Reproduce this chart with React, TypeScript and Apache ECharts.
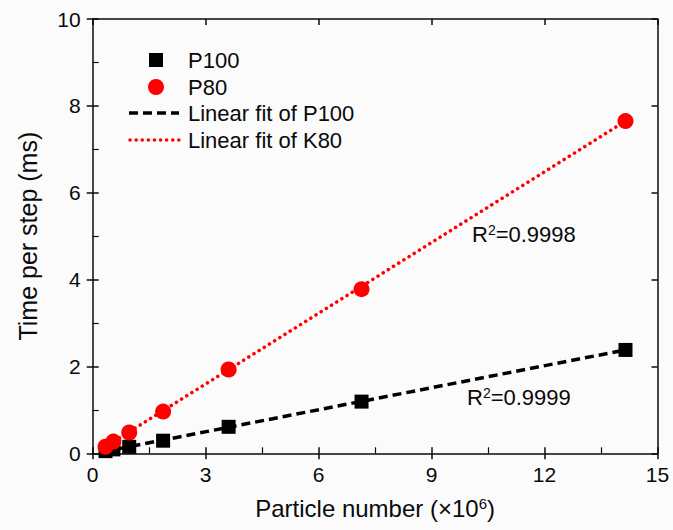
import React, { useEffect, useRef } from "react";
import * as echarts from "echarts";

const p100X = [0.34, 0.55, 0.97, 1.87, 3.61, 7.14, 14.15];
const p100Y = [0.05, 0.09, 0.15, 0.29, 0.61, 1.19, 2.38];
const p80X = [0.34, 0.55, 0.97, 1.87, 3.61, 7.14, 14.15];
const p80Y = [0.15, 0.27, 0.48, 0.96, 1.93, 3.78, 7.65];
const fitP100X = [0.3, 14.15];
const fitP100Y = [0.04, 2.38];
const fitK80X = [0.3, 14.15];
const fitK80Y = [0.13, 7.65];
const xTicks = { min: 0, max: 15, interval: 3 };
const yTicks = { min: 0, max: 10, interval: 2 };
const legendNames = ["P100", "P80", "Linear fit of P100", "Linear fit of K80"];
const r2Labels = ["0.9998", "0.9999"];

const FONT = "Liberation Sans, Arial, sans-serif";
const AXC = "#0a0a0a";

const zip = (xs: number[], ys: number[]) => xs.map((x, i) => [x, ys[i]]);

export default function App() {
  const ref = useRef<HTMLDivElement>(null);
  useEffect(() => {
    if (!ref.current) return;
    const chart = echarts.init(ref.current, null, { renderer: "svg" });
    const baseX = { type: "value", min: xTicks.min, max: xTicks.max, interval: xTicks.interval, splitLine: { show: false } };
    const baseY = { type: "value", min: yTicks.min, max: yTicks.max, interval: yTicks.interval, splitLine: { show: false } };
    const line = { show: true, onZero: false, lineStyle: { color: AXC, width: 1.5 } };
    const option: any = {
      animation: false,
      backgroundColor: "#fbfbfb",
      textStyle: { fontFamily: FONT },
      grid: { left: 92.7, right: 15.5, top: 19, bottom: 76.7, containLabel: false },
      xAxis: [
        {
          ...baseX,
          position: "bottom",
          axisLine: line,
          axisTick: { show: true, inside: false, length: 6, lineStyle: { color: AXC, width: 1.5 } },
          axisLabel: { show: true, fontSize: 21, margin: 11, color: AXC, fontFamily: FONT },
          name: "Particle number (\u00d710{s|6})",
          nameLocation: "middle",
          nameGap: 43,
          nameTextStyle: {
            fontSize: 24, color: AXC, fontFamily: FONT,
            rich: { s: { fontSize: 15, verticalAlign: "top", color: AXC, fontFamily: FONT, padding: [0, 0, 8, 0] } },
          },
        },
        {
          ...baseX,
          position: "bottom",
          axisLine: { show: false, onZero: false },
          axisTick: { show: true, inside: true, length: 6, lineStyle: { color: AXC, width: 1.5 } },
          minorTick: { show: true, splitNumber: 2, length: 6, lineStyle: { color: AXC, width: 1.2 } },
          axisLabel: { show: false },
        },
        {
          ...baseX,
          position: "top",
          axisLine: line,
          axisTick: { show: true, inside: true, length: 6, lineStyle: { color: AXC, width: 1.5 } },
          axisLabel: { show: false },
        },
      ],
      yAxis: [
        {
          ...baseY,
          position: "left",
          axisLine: line,
          axisTick: { show: true, inside: false, length: 6, lineStyle: { color: AXC, width: 1.5 } },
          axisLabel: { show: true, fontSize: 21, margin: 12, color: AXC, fontFamily: FONT },
          name: "Time per step (ms)",
          nameLocation: "middle",
          nameGap: 52,
          nameTextStyle: { fontSize: 25, color: AXC, fontFamily: FONT },
        },
        {
          ...baseY,
          position: "left",
          axisLine: { show: false, onZero: false },
          axisTick: { show: true, inside: true, length: 6, lineStyle: { color: AXC, width: 1.5 } },
          minorTick: { show: true, splitNumber: 2, length: 6, lineStyle: { color: AXC, width: 1.2 } },
          axisLabel: { show: false },
        },
        {
          ...baseY,
          position: "right",
          axisLine: line,
          axisTick: { show: true, inside: true, length: 6, lineStyle: { color: AXC, width: 1.5 } },
          axisLabel: { show: false },
        },
      ],
      series: [
        {
          name: legendNames[2],
          type: "line",
          data: zip(fitP100X, fitP100Y),
          symbol: "none",
          lineStyle: { color: "#000", width: 3.5, type: [9, 5] },
          z: 2,
        },
        {
          name: legendNames[3],
          type: "line",
          data: zip(fitK80X, fitK80Y),
          symbol: "none",
          lineStyle: { color: "#ff0000", width: 3.5, type: [0.1, 6], cap: "round" },
          z: 2,
        },
        {
          name: legendNames[0],
          type: "scatter",
          data: zip(p100X, p100Y),
          symbol: "rect",
          symbolSize: 14,
          itemStyle: { color: "#000", opacity: 1 },
          z: 3,
        },
        {
          name: legendNames[1],
          type: "scatter",
          data: zip(p80X, p80Y),
          symbol: "circle",
          symbolSize: 16,
          itemStyle: { color: "#ff0000", opacity: 1 },
          z: 4,
        },
      ],
      graphic: [
        { type: "rect", shape: { x: 149, y: 53, width: 14, height: 14 }, style: { fill: "#000" } },
        { type: "circle", shape: { cx: 156, cy: 87, r: 8 }, style: { fill: "#ff0000" } },
        { type: "line", shape: { x1: 129, y1: 113, x2: 179, y2: 113 }, style: { stroke: "#000", lineWidth: 3.5, lineDash: [9, 5] } },
        { type: "line", shape: { x1: 130, y1: 140, x2: 179, y2: 140 }, style: { stroke: "#ff0000", lineWidth: 3.5, lineDash: [0.1, 6], lineCap: "round" } },
        ...legendNames.map((n, i) => ({
          type: "text",
          x: 188,
          y: [60, 87, 113, 140][i],
          style: { text: n, fontSize: 22, fontFamily: FONT, fill: AXC, textVerticalAlign: "middle", textAlign: "left" },
        })),
        ...r2Labels.map((v, i) => ({
          type: "text",
          x: [472, 467][i],
          y: [234, 397][i],
          style: {
            text: "{r|R}{s|2}{r|=" + v + "}",
            fontFamily: FONT,
            fill: AXC,
            textVerticalAlign: "middle",
            rich: {
              r: { fontSize: 22, fontFamily: FONT, fill: AXC, color: AXC },
              s: { fontSize: 14, fontFamily: FONT, verticalAlign: "top", fill: AXC, color: AXC },
            },
          },
        })),
      ],
    };
    chart.setOption(option);
    return () => chart.dispose();
  }, []);
  return <div ref={ref} style={{ position: "fixed", left: 0, top: 0, width: 673, height: 530 }} />;
}
